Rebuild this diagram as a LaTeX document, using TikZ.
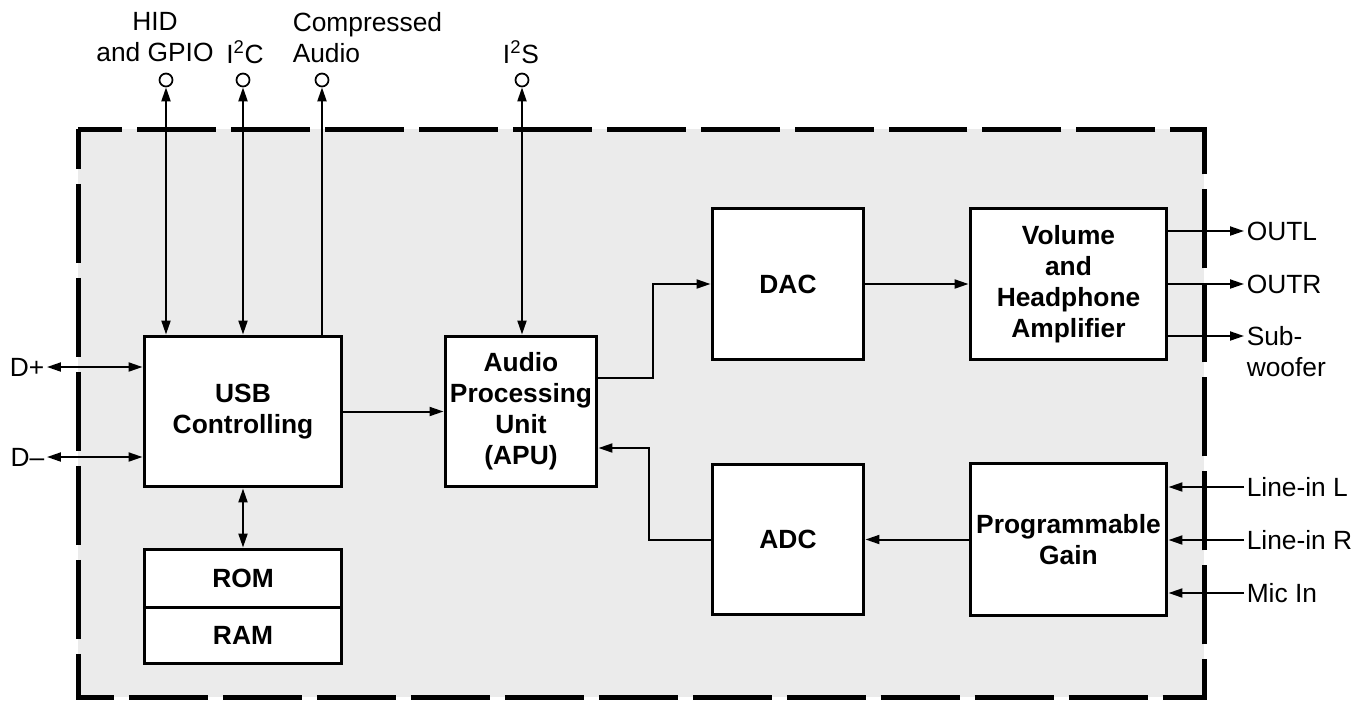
\documentclass[tikz,border=0pt]{standalone}
\usepackage{fontspec}
\setmainfont{Liberation Sans}
\usepackage{tikz}
\usetikzlibrary{arrows.meta}
\newcommand{\diafont}{\fontsize{15}{17.6}\selectfont}
\tikzset{
  blk/.style = {draw, line width=0.06cm, fill=white, inner sep=0pt, align=center, font=\diafont\bfseries},
  pin/.style = {draw, circle, fill=white, line width=0.035cm, minimum size=0.26cm, inner sep=0pt},
  lbl/.style = {inner sep=1pt, align=center, font=\diafont},
}

\begin{document}
\begin{tikzpicture} [x=0.02cm, y=-0.02cm, line width=0.04cm, >={Triangle[length=0.28cm,width=0.18cm]}]
    \useasboundingbox (0,0) rectangle (1370,701);
    \draw[line width=0.1cm, dash pattern=on 1.58cm off 0.3cm, dash phase=0.78cm, fill=black!8] (78,129) rectangle (1204,697);

    \node[blk, minimum width=3.96cm, minimum height=3.02cm] (usb) at (243,411.5) {USB\\Controlling};
    \node[blk, minimum width=3.96cm, minimum height=1.16cm] (rom) at (243,578) {ROM};
    \node[blk, minimum width=3.96cm, minimum height=1.12cm] (ram) at (243,635) {RAM};
    \node[blk, minimum width=3.04cm, minimum height=3.02cm] (apu) at (521,411.5) {Audio\\Processing\\Unit\\(APU)};
    \node[blk, minimum width=3.04cm, minimum height=3.04cm] (dac) at (788,284) {DAC};
    \node[blk, minimum width=3.04cm, minimum height=3.02cm] (adc) at (788,539.5) {ADC};
    \node[blk, minimum width=3.94cm, minimum height=3.04cm] (vol) at (1068.5,284) {Volume\\and\\Headphone\\Amplifier};
    \node[blk, minimum width=3.94cm, minimum height=3.04cm] (pg) at (1068.5,539.5) {Programmable\\Gain};

    \node[pin] (hid) at (166,80) {};
    \node[pin] (i2c) at (243,80) {};
    \node[pin] (comp) at (322,80) {};
    \node[pin] (i2s) at (522,80) {};
    \node[lbl] (hidlbl) at (155,37.5) {HID\\and GPIO};
    \node[lbl, anchor=base] (i2clbl) at (245,63) {I\textsuperscript{2}C};
    \node[lbl, anchor=west, align=left] (complbl) at (290,37.5) {Compressed\\Audio};
    \node[lbl, anchor=base] (i2slbl) at (521,63) {I\textsuperscript{2}S};

    \draw[<->] (hid) -- (hid |- usb.north);
    \draw[<->] (i2c) -- (i2c |- usb.north);
    \draw[->] (comp |- usb.north) -- (comp);
    \draw[<->] (i2s) -- (i2s |- apu.north);

    \node[lbl, anchor=east] (dp) at (47,367) {D+};
    \node[lbl, anchor=east] (dm) at (47,457) {D–};
    \draw[<->] (dp) -- (dp -| usb.west);
    \draw[<->] (dm) -- (dm -| usb.west);
    \draw[<->] (usb) -- (rom);

    \draw[->] (usb) -- (apu);
    \draw[->] (apu.east |- 0,378) -- (653,378) |- (dac);
    \draw[->] (adc) -| (649,448) -- (apu.east |- 0,448);
    \draw[->] (dac) -- (vol);
    \draw[->] (pg) -- (adc);

    \node[lbl, anchor=west] (outl) at (1244,231) {OUTL};
    \node[lbl, anchor=west] (outr) at (1244,284) {OUTR};
    \node[lbl, anchor=north west, align=left] (sub) at (1244,324) {Sub-\\woofer};
    \draw[->] (vol.east |- outl) -- (outl);
    \draw[->] (vol.east |- outr) -- (outr);
    \draw[->] (vol.east |- 0,336) -- (sub.west |- 0,336);

    \node[lbl, anchor=west] (linl) at (1244,487) {Line-in L};
    \node[lbl, anchor=west] (linr) at (1244,540) {Line-in R};
    \node[lbl, anchor=west] (mic) at (1244,593) {Mic In};
    \draw[->] (linl) -- (pg.east |- linl);
    \draw[->] (linr) -- (pg.east |- linr);
    \draw[->] (mic) -- (pg.east |- mic);
\end{tikzpicture}
\end{document}
